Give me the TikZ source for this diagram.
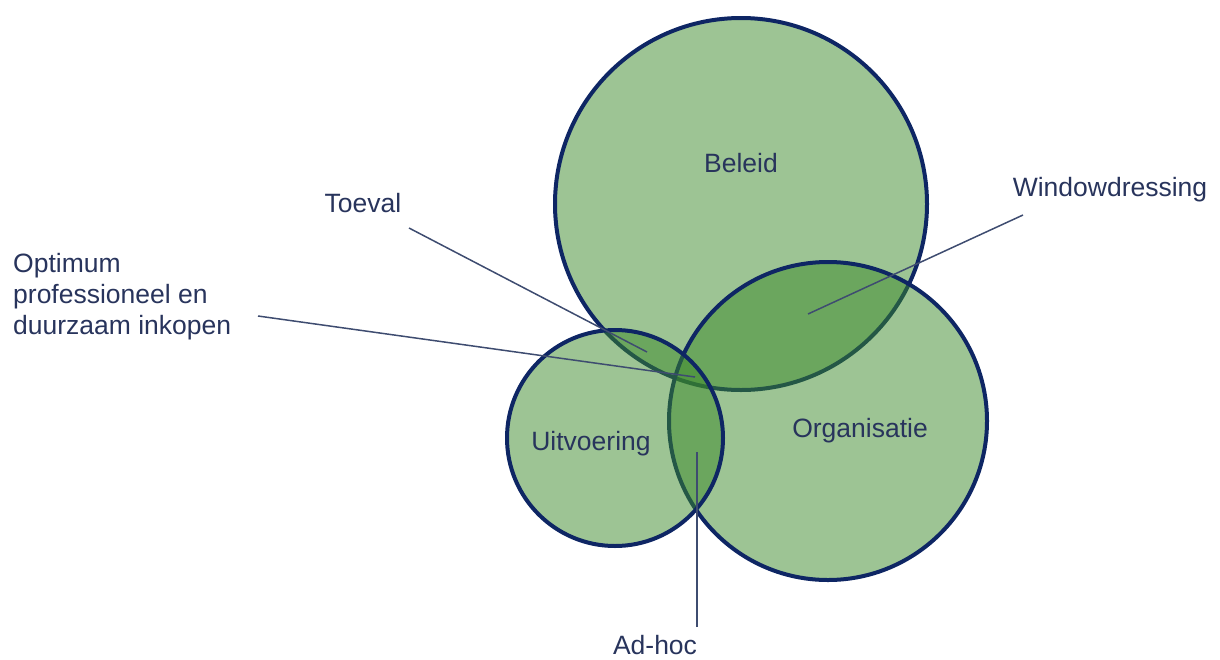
\documentclass[tikz,border=0pt]{standalone}
\usepackage{fontspec}
\setmainfont{Liberation Sans}
\definecolor{navy}{RGB}{14,38,100}
\definecolor{setgreen}{RGB}{59,137,41}
\definecolor{textblue}{RGB}{40,52,92}
\definecolor{leadblue}{RGB}{62,76,112}
\newcommand{\lblfont}{\fontsize{26.5}{31}\selectfont}
\begin{document}
\begin{tikzpicture}[x=1pt,y=-1pt,
        set/.style={circle,draw=navy,line width=4pt,fill=setgreen,
            fill opacity=0.5,draw opacity=1,inner sep=0pt},
        lbl/.style={text=textblue,font=\lblfont,inner sep=0pt},
        lead/.style={draw=leadblue,line width=1.5pt}]
\useasboundingbox (0,0) rectangle (1220,659);
% the three sets
\node[set,minimum size=372pt] (beleid) at (741,204) {};
\node[set,minimum size=318pt] (organisatie) at (828,421) {};
\node[set,minimum size=216pt] (uitvoering) at (615,438) {};
\node[lbl,anchor=base] (beleidtxt) at (741,172) {Beleid};
\node[lbl,anchor=base] (organisatietxt) at (860,437) {Organisatie};
\node[lbl,anchor=base] (uitvoeringtxt) at (591,450) {Uitvoering};

% outside labels
\node[lbl,anchor=base] (toeval) at (363,212) {Toeval};
\node[lbl,anchor=base] (windowdressing) at (1110,196) {Windowdressing};
\node[lbl,anchor=base] (adhoc) at (655,654) {Ad-hoc};
\node[lbl,anchor=north west,align=left] (optimum) at (13,253)
    {Optimum\\professioneel en\\duurzaam inkopen};

\coordinate (toevalA) at (409,228);   \coordinate (toevalB) at (647,352);
\coordinate (optimumA) at (258,316);  \coordinate (optimumB) at (695,377);
\coordinate (windowA) at (1023,215);  \coordinate (windowB) at (808,314);
\coordinate (adhocA) at (697,627);    \coordinate (adhocB) at (697,452);
\draw[lead] (toevalA) -- (toevalB);
\draw[lead] (optimumA) -- (optimumB);
\draw[lead] (windowA) -- (windowB);
\draw[lead] (adhocA) -- (adhocB);
\end{tikzpicture}
\end{document}
